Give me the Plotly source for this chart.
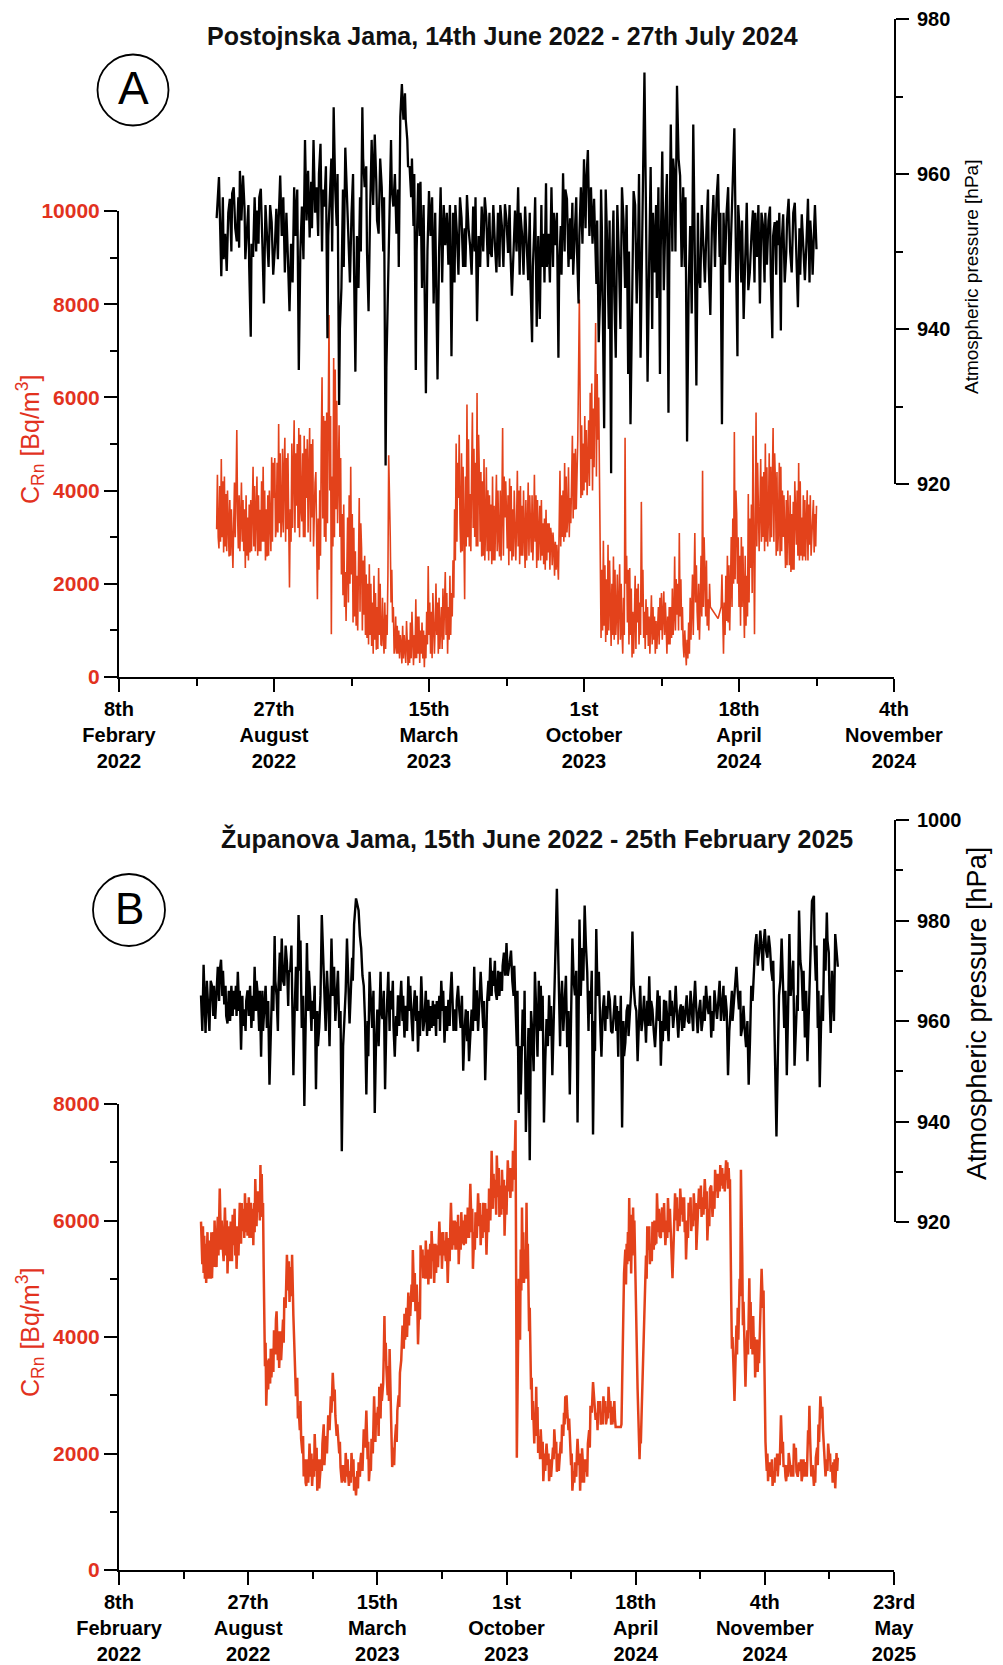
import pandas as pd
import plotly.graph_objects as go

W, H = 1003, 1665
DAY0 = pd.Timestamp("2022-02-08")   # days below are counted from this date

# ---------------- Panel A : Postojnska Jama ----------------
a_rn_day = [126,127,129,132,135,138,142,147,149,152,
            154,158,163,166,169,173,177,182,186,191,
            195,197,200,203,206,210,214,217,220,223,
            226,229,232,236,239,242,246,249,253,256,
            259,262,265,268,271,274,277,281,283,285,
            289,292,295,299,302,307,310,313,316,320,
            323,326,329,332,335,339,342,345,348,350,
            353,356,360,365,369,373,376,380,383,386,
            391,394,399,402,406,409,412,416,421,424,
            427,431,435,438,441,444,446,449,453,456,
            459,462,465,468,471,473,476,481,484,487,
            491,495,498,501,504,509,511,514,517,520,
            524,528,532,536,539,543,548,551,554,558,
            562,565,567,569,572,575,579,582,585,588,
            592,594,596,599,602,606,609,612,615,618,
            620,622,625,628,631,635,638,642,646,650,
            653,656,659,662,666,669,674,677,680,683,
            687,692,696,699,703,707,710,713,717,720,
            723,726,729,732,735,739,743,747,750,753,
            756,760,763,773,777,780,783,786,790,794,
            797,800,803,807,810,812,815,818,820,822,
            825,828,831,834,838,841,844,847,851,854,
            857,860,864,867,870,874,877,881,884,888,
            891,895,897,900]
a_rn = [3173,4342,2756,4676,2672,3925,2588,2338,4175,5302,
        2756,4175,2338,3424,2672,4509,3257,3591,4509,2588,
        3340,4718,3841,3173,5427,3424,5135,3173,1920,5010,
        5511,3674,5344,3340,5177,3841,5344,3424,4175,1670,
        4008,6430,3006,5678,7766,918,6847,5928,4676,3006,
        1753,2254,3424,4509,1169,2171,3841,2756,1336,835,
        2421,668,2171,584,2338,668,501,1336,4759,3006,
        1169,668,501,292,668,250,1169,250,1670,501,
        1169,209,2380,501,1336,2004,501,1503,2254,501,
        2171,2505,5010,3841,2672,4509,1670,5845,3925,5678,
        3006,6096,4342,2588,4676,3173,4008,2421,3674,4342,
        2588,5344,3424,2756,4259,2588,3424,4425,2421,3674,
        2338,4175,2672,4342,2338,3674,2421,3591,2672,3006,
        2171,2839,2088,4425,3006,4592,3424,3841,5177,3591,
        5093,8100,3841,5010,4175,5511,4676,5761,7598,5093,
        4259,835,2922,751,2839,668,2588,1336,2421,501,
        5135,1169,2338,418,2171,1169,3758,835,1670,668,
        1753,501,1503,1002,1837,501,1503,835,2588,1336,
        3089,1002,418,250,1169,1503,3089,1002,1503,4425,
        2171,1670,1503,1253,1503,501,2171,1169,3006,5260,
        3507,1503,3006,835,2171,3925,2338,5177,918,5678,
        3841,4676,3006,5010,3424,4509,5344,4175,3173,4509,
        3006,2338,3424,2254,3758,2839,4592,3424,2588,4008,
        2839,3424,2672,3674]
# additional (day, Bq/m3) readings between the main ones
a_rn_extra = [
    (128,3000),(130,4100),(131,2900),(133,3000),(134,4200),(136,4300),(137,2800),(139,2700),(140,4000),(141,3100),
    (143,3800),(144,2600),(145,3600),(146,2900),(150,3000),(151,4000),(153,3500),(155,3900),(156,2700),(157,3400),
    (159,2900),(160,3800),(161,2700),(162,3600),(164,3900),(165,2600),(167,2500),(168,3700),(170,3800),(171,2700),
    (172,3500),(174,2800),(175,4100),(176,2700),(178,4300),(179,2600),(180,3900),(181,2700),(183,2700),(184,4200),
    (185,2900),(187,2900),(188,4000),(189,2500),(190,3600),(192,3900),(193,2600),(194,4000),(196,2700),(198,2900),
    (199,4600),(201,4700),(202,3000),(204,4600),(205,3100),(207,3300),(208,4800),(209,3000),(211,4900),(212,3100),
    (213,4400),(215,2900),(216,4700),(218,4800),(219,3300),(221,3600),(222,2900),(224,3200),(225,4500),(227,3100),
    (228,4800),(230,5000),(231,3200),(233,3000),(234,5200),(235,3600),(237,4800),(238,3000),(240,3000),(241,4900),
    (243,5100),(244,3100),(245,4400),(247,2900),(248,5000),(250,5100),(251,2800),(252,3600),(254,4400),(255,2600),
    (257,3400),(258,2300),(260,2600),(261,5000),(263,3400),(264,5600),(266,5500),(267,2900),(269,3300),(270,6000),
    (272,4000),(273,5600),(275,4300),(276,2800),(278,3000),(279,6600),(280,3600),(282,3300),(284,5400),(286,4700),
    (287,2200),(288,3500),(290,3700),(291,1500),(293,1200),(294,3000),(296,1600),(297,3900),(298,2000),(300,2200),
    (301,3500),(303,3200),(304,1300),(305,2700),(306,1100),(308,1000),(309,2600),(311,1400),(312,3300),(314,1000),
    (315,2500),(317,2600),(318,900),(319,2200),(321,2000),(322,700),(324,900),(325,2000),(327,1600),(328,500),
    (330,800),(331,1800),(333,1500),(334,600),(336,900),(337,2000),(338,700),(340,1700),(341,900),(343,1600),
    (344,600),(346,900),(347,2200),(351,1600),(352,2300),(354,1500),(355,500),(357,1300),(358,500),(359,1100),
    (361,1000),(362,400),(363,900),(364,700),(366,1100),(367,400),(368,900),(370,300),(371,1200),(372,500),
    (374,800),(375,300),(377,400),(378,1400),(379,600),(381,900),(382,400),(384,400),(385,1300),(387,1300),
    (388,300),(389,1000),(390,500),(392,400),(393,1000),(395,900),(396,400),(397,1400),(398,700),(400,900),
    (401,1600),(403,1400),(404,400),(405,1800),(407,500),(408,1100),(410,900),(411,1600),(413,1700),(414,600),
    (415,1000),(417,600),(418,1900),(419,800),(420,1500),(422,900),(423,1800),(425,1500),(426,800),(428,900),
    (429,1800),(430,1300),(432,1700),(433,3600),(434,2500),(436,2900),(437,4600),(439,5200),(440,3300),(442,4800),
    (443,2700),(445,3300),(447,4300),(448,2800),(450,3000),(451,5100),(452,2800),(454,2700),(455,4400),(457,3200),
    (458,4900),(460,4600),(461,2800),(463,2800),(464,5200),(466,2900),(467,4400),(469,4200),(470,2600),(472,2500),
    (474,4500),(475,2700),(477,2500),(478,3900),(479,2700),(480,3700),(482,4300),(483,2500),(485,2500),(486,3300),
    (488,2700),(489,4000),(490,3000),(492,4000),(493,2500),(494,3600),(496,2600),(497,4300),(499,4200),(500,3500),
    (502,3900),(503,2400),(505,2700),(506,4100),(507,2500),(508,3600),(510,4000),(512,2500),(513,3300),(515,2800),
    (516,4000),(518,4100),(519,2600),(521,2600),(522,4000),(523,3100),(525,3800),(526,2500),(527,3200),(529,2600),
    (530,3900),(531,3200),(533,3900),(534,2500),(535,3100),(537,2900),(538,3900),(540,3800),(541,2500),(542,3000),
    (544,2500),(545,3800),(546,2600),(547,3300),(549,3400),(550,2300),(552,2500),(553,3300),(555,3300),(556,2300),
    (557,3200),(559,2400),(560,3100),(561,2800),(563,2900),(564,2300),(570,2800),(571,3900),(573,4000),(574,2900),
    (576,3000),(577,4300),(578,3100),(580,4500),(581,3000),(583,3300),(584,4200),(586,3400),(587,4800),(589,4900),
    (590,3600),(591,4200),(597,5400),(598,3900),(600,4000),(601,5600),(603,5300),(604,3900),(605,4600),(607,4100),
    (608,6100),(610,6300),(611,4000),(613,4500),(614,6400),(616,4300),(617,6500),(619,6000),(621,2500),(623,2300),
    (624,1000),(626,1100),(627,2400),(629,2100),(630,900),(632,1000),(633,2500),(634,1300),(636,2000),(637,900),
    (639,800),(640,2300),(641,900),(643,2200),(644,700),(645,1600),(647,800),(648,2000),(649,1000),(651,1700),
    (652,900),(654,2000),(655,2600),(657,2300),(658,700),(660,900),(661,1900),(663,1400),(664,500),(665,1200),
    (667,600),(668,1900),(670,2000),(671,700),(672,1600),(673,900),(675,1500),(676,2300),(678,1400),(679,600),
    (681,900),(682,1500),(684,1300),(685,500),(686,1000),(688,700),(689,1500),(690,800),(691,1300),(693,1200),
    (694,600),(695,1000),(697,700),(698,1700),(700,1800),(701,800),(702,1300),(704,900),(705,1600),(706,1100),
    (708,1300),(709,700),(711,700),(712,1500),(714,1900),(715,900),(716,1300),(718,1000),(719,2100),(721,2000),
    (722,1000),(724,1300),(725,2100),(727,1500),(728,700),(730,1000),(731,600),(733,800),(734,400),(736,500),
    (737,1700),(738,800),(740,2200),(741,900),(742,1800),(744,1600),(745,2400),(746,1400),(748,2000),(749,800),
    (751,2600),(752,1300),(754,1500),(755,3000),(757,1300),(758,2500),(759,1100),(761,1000),(762,2000),(778,2200),
    (779,1000),(781,1600),(782,900),(784,1200),(785,2600),(787,2400),(788,1000),(789,1900),(791,1500),(792,3400),
    (793,2000),(795,2100),(796,4000),(798,2000),(799,3000),(801,2600),(802,1100),(804,1500),(805,2800),(806,1800),
    (808,2600),(809,1100),(811,1300),(813,1600),(814,3400),(816,3700),(817,1800),(823,2800),(824,4600),(826,2700),
    (827,3600),(829,2900),(830,4300),(832,4400),(833,2700),(835,2900),(836,4500),(837,2800),(839,4800),(840,2900),
    (842,3000),(843,4200),(845,2900),(846,4800),(848,2600),(849,4400),(850,2700),(852,4600),(853,2600),(855,2700),
    (856,4000),(858,3900),(859,3100),(861,3800),(862,2400),(863,4000),(865,2400),(866,3900),(868,3500),(869,2300),
    (871,2300),(872,4200),(873,3200),(875,4000),(876,2600),(878,2500),(879,4200),(880,2600),(882,2500),(883,3900),
    (885,3800),(886,2500),(887,3300),(889,2500),(890,3700),(892,3900),(893,2600),(894,3300),(896,3800),(898,3500),
    (899,2800)]

a_p_day = [126,129,132,137,143,148,152,156,160,165,
           170,173,178,183,187,191,197,201,208,214,
           220,226,232,236,240,244,246,251,255,260,
           265,269,272,277,281,284,287,292,296,300,
           305,309,314,317,322,326,330,335,339,344,
           347,351,354,358,363,365,369,372,375,380,
           383,386,391,396,400,406,411,415,421,425,
           429,436,442,449,453,457,462,468,474,481,
           487,494,498,502,507,511,515,520,524,528,
           533,536,539,543,548,551,554,558,563,567,
           570,573,578,582,585,588,593,596,600,605,
           609,613,616,619,623,626,630,635,638,641,
           645,649,653,657,660,664,668,673,678,682,
           686,691,696,698,701,705,709,712,717,720,
           724,728,733,737,741,745,750,754,758,763,
           767,771,775,778,782,786,790,794,798,801,
           806,810,814,818,823,827,831,836,840,843,
           846,851,854,857,861,864,868,872,876,881,
           885,889,894,897,900]
a_p = [954.3,959.6,946.8,952.3,956.8,958.3,951.3,960.4,959.8,952.3,
       939.0,949.3,955.3,958.1,943.3,952.3,953.8,950.3,959.8,947.3,
       942.3,958.3,934.7,955.8,964.4,960.4,951.8,964.4,958.3,963.9,
       955.8,938.8,956.8,968.6,953.3,930.2,945.3,963.4,952.3,954.8,
       934.5,945.3,968.6,958.3,942.3,964.4,965.1,952.3,958.3,922.4,
       945.3,964.4,955.8,952.3,967.4,971.6,970.4,964.4,960.9,953.3,
       934.7,958.8,945.3,931.7,957.8,943.3,933.5,958.3,950.8,948.3,
       936.5,952.3,954.3,957.3,950.8,955.8,941.0,955.8,954.3,949.3,
       947.3,953.3,956.1,949.8,944.3,955.3,958.3,952.3,955.8,946.3,
       938.3,953.3,940.3,941.3,952.3,958.8,952.3,958.3,950.8,936.3,
       953.3,960.1,956.8,954.3,956.3,952.3,943.3,958.3,961.9,963.1,
       958.3,956.8,945.8,938.3,953.3,927.2,950.8,921.4,955.3,936.3,
       949.3,958.3,945.3,934.2,927.7,957.8,943.3,936.3,973.1,933.2,
       960.9,947.3,958.3,934.2,962.9,954.3,929.2,966.4,959.3,971.4,
       959.8,958.3,925.5,953.3,966.4,932.7,945.3,950.8,952.8,941.8,
       957.3,956.8,949.3,927.7,948.3,958.3,952.3,965.9,936.5,952.3,
       941.3,956.3,947.3,955.3,949.3,943.3,953.3,948.3,955.8,938.8,
       953.8,950.8,939.8,954.8,949.8,956.8,947.3,956.3,942.8,954.8,
       946.3,956.8,950.3,953.3,950.3]
# additional (day, hPa) readings between the main ones
a_p_extra = [
    (134,957),(135,949),(139,947.5),(141,955),(145,950),(146,957.5),(150,953),(154,957),(155,950.5),(158,954),
    (162,955.5),(163,949),(167,956),(168,948),(171,951),(175,957),(177,950),(180,951),(181,957),(185,951),
    (189,956),(193,948),(195,956),(199,947),(203,955.5),(205,949),(206,954),(210,952),(212,957),(216,955),
    (218,949),(222,951),(224,946),(228,952),(230,958),(234,950),(238,949),(242,954),(248,959),(249,953),
    (253,955),(257,952),(258,960),(262,950),(263,958),(267,961),(270,952),(274,962),(275,950),(279,958),
    (282,960),(285,940),(289,958),(290,948),(294,957),(298,946),(302,960),(303,950),(307,952),(311,957),
    (312,950),(315,962),(319,961),(320,950),(324,955),(328,956),(332,959),(333,954),(337,962),(341,950),
    (342,957),(345,935),(349,953),(352,958),(356,960),(360,958),(361,948),(367,967),(370,967),(373,961),
    (377,957),(378,962),(381,960),(384,950),(388,952),(389,959),(393,956),(394,948),(398,950),(402,952),
    (404,957),(408,955),(409,948),(413,950),(417,946),(419,956),(423,955),(427,956),(431,955),(433,946),
    (434,956),(438,947),(440,957),(444,948),(446,953),(447,948),(451,953),(455,947),(459,950),(460,957),
    (464,952),(466,948),(470,950),(472,957),(476,948),(478,955),(479,950),(483,956),(485,951),(489,955),
    (491,948),(492,956),(496,948),(500,954),(504,956),(505,950),(509,951),(513,950),(517,947),(518,955),
    (522,947),(526,950),(530,955),(531,946),(534,948),(537,957),(541,952),(545,956),(546,948),(549,946),
    (552,948),(556,946),(560,948),(561,955),(565,955),(568,948),(571,947),(575,950),(576,958),(580,948),
    (583,949),(586,947),(590,957),(591,950),(594,952),(598,951),(602,953),(603,959),(607,952),(611,951),
    (614,953),(617,954),(621,945),(622,958),(624,942),(628,958),(632,940),(633,954),(636,948),(639,945),
    (643,956),(647,940),(651,954),(655,956),(658,950),(662,945),(666,956),(670,952),(671,960),(675,950),
    (676,958),(680,955),(684,948),(688,940),(689,955),(693,956),(694,944),(699,950),(703,945),(707,960),
    (710,948),(714,950),(715,962),(718,950),(722,962),(726,948),(730,948),(731,957),(735,945),(739,942),
    (743,950),(747,955),(748,947),(752,956),(756,946),(760,958),(761,948),(765,953),(769,948),(773,960),
    (776,955),(780,955),(784,955),(788,946),(792,957),(796,950),(799,956),(803,946),(804,954),(808,950),
    (812,945),(816,952),(820,946),(821,955),(825,956),(829,955),(833,946),(834,955),(838,954),(841,947),
    (844,952),(848,947),(849,954),(852,955),(855,951),(859,946),(862,954),(866,950),(870,955),(874,948),
    (878,953),(879,947),(883,950),(887,951),(891,946),(892,954),(895,947),(898,956)]

a_tick_dates = ["2022-02-08", "2022-08-27", "2023-03-15", "2023-10-01",
                "2024-04-18", "2024-11-04"]
a_tick_text = ["8th<br>Febrary<br>2022", "27th<br>August<br>2022",
               "15th<br>March<br>2023", "1st<br>October<br>2023",
               "18th<br>April<br>2024", "4th<br>November<br>2024"]

# ---------------- Panel B : Zupanova Jama ----------------
b_rn_day = [127,129,132,135,140,144,149,153,156,160,
            164,168,173,177,182,187,191,195,199,204,
            208,211,215,219,222,225,228,232,236,240,
            244,248,252,256,260,264,268,270,274,278,
            282,286,290,295,299,303,307,311,315,319,
            324,328,331,335,339,343,347,351,356,360,
            364,367,371,375,379,383,387,391,395,399,
            403,407,411,414,419,423,427,431,435,439,
            443,448,451,455,459,463,467,471,475,480,
            484,488,492,496,500,504,509,514,518,522,
            526,530,534,540,544,548,552,556,560,564,
            569,573,577,581,585,589,593,597,602,606,
            610,614,616,618,621,624,627,631,634,637,
            640,643,646,649,653,657,662,666,670,674,
            678,682,686,691,694,698,702,706,710,714,
            717,722,726,730,734,738,742,746,750,755,
            758,762,765,769,777,779,782,787,790,793,
            796,799,802,805,808,811,815,818,822,826,
            830,833,837,841,846,850,854,857,861,865,
            869,873,878,882,886,890,894,898,902,907,
            911,915,919,923,927,931,935,940,943,946,
            948,951,953,956,959,963,967,970,973,976,
            979,982,985,988,991,995,999,1002,1005,1008,
            1012,1016,1020,1025,1029,1033,1037,1041,1045,1049,
            1053,1057,1062,1066,1069,1072,1076,1079,1083,1086,
            1090,1094,1098,1102,1106,1109,1111,1113]
b_rn = [5980,5251,5737,4927,5657,5008,5576,6062,6547,5657,
        6224,5089,5980,5576,5170,6305,5818,6467,5737,6305,
        5576,6710,6143,6953,6062,4117,2820,3631,3307,4117,
        4441,3469,3955,4684,5413,4603,5413,4360,2982,2820,
        2253,1605,1443,2172,1443,2334,1362,1605,2172,2010,
        2658,2982,3387,2658,2253,1767,1524,2010,1443,2010,
        1362,1281,1848,2010,2415,2739,1524,2253,2982,2496,
        3145,2901,4360,3469,3793,1767,2172,2739,3387,4198,
        3955,4765,4360,5494,4441,3874,5576,5008,5657,5251,
        5818,4927,5576,5980,5170,5657,4927,6305,5576,5980,
        5251,6143,5576,6224,6629,5170,6143,6467,5576,6305,
        5413,6547,7196,6386,7115,6062,6872,5737,7034,6386,
        7196,7723,1929,4603,3955,6224,4927,6305,4603,3793,
        2577,2172,3145,2010,2415,1524,2172,1524,1848,2415,
        1686,1929,2496,2982,2739,2172,1362,1848,2253,1362,
        2091,1686,2172,2820,3226,2577,2901,2496,2982,2577,
        3145,2496,2658,2456,2456,3145,5089,5251,6386,5089,
        6224,5251,3793,2172,2172,3387,4927,5899,5251,5980,
        5576,6467,5737,6224,5576,6386,5899,5008,6467,5818,
        6547,5980,5332,6305,5818,6467,5494,6547,6062,6710,
        5657,6547,6062,6872,6386,6953,6547,7034,6547,6710,
        4603,3307,2901,4198,3955,6872,4603,3145,4117,5008,
        3793,4360,3307,3955,3549,5170,3793,1929,1524,1848,
        1443,1929,1605,2658,1767,1524,2010,1605,2172,1686,
        1848,1524,1848,2172,2820,1605,1443,1929,2496,2982,
        2415,1605,2172,1686,1848,1402,2010,1929]
b_rn_extra = [
    (128,5500),(130,5900),(131,5100),(133,5000),(134,5600),(137,5800),(138,5000),(139,5300),(142,5000),(143,5800),
    (146,5800),(147,5200),(148,6000),(151,5200),(152,5800),(154,5400),(155,6100),(158,5500),(159,6000),(162,5300),
    (163,5800),(166,5400),(167,6000),(170,5900),(171,5300),(172,5700),(175,5300),(176,6100),(179,6200),(180,5400),
    (181,5900),(184,5900),(185,5400),(189,5600),(190,6300),(193,6200),(194,5700),(197,5800),(198,6300),(201,6400),
    (202,5700),(206,5700),(207,6200),(209,6300),(210,5800),(213,5900),(214,6500),(217,6500),(218,6000),(220,6100),
    (221,6800),(223,6300),(224,5200),(226,3500),(227,3900),(230,3600),(231,3100),(234,3200),(235,3800),(238,3800),
    (239,3400),(242,3700),(243,4300),(246,3600),(247,4100),(250,4100),(251,3600),(254,4300),(255,3900),(258,4500),
    (259,5200),(262,4800),(263,5300),(266,5200),(267,4700),(272,3400),(273,3100),(276,3300),(277,2600),(280,2400),
    (281,2900),(284,2000),(285,2300),(288,1900),(289,1500),(292,1900),(293,1500),(294,1800),(297,1600),(298,2000),
    (301,1900),(302,1600),(305,1700),(306,2100),(309,1900),(310,1400),(313,1900),(314,1700),(317,2500),(318,1800),
    (321,2300),(322,2000),(323,2400),(326,2400),(327,2900),(329,2700),(330,3200),(333,2900),(334,3100),(337,2300),
    (338,2500),(341,2000),(342,2200),(345,1500),(346,1800),(349,1800),(350,1500),(353,1600),(354,1900),(355,1600),
    (358,1700),(359,1500),(362,1600),(363,1900),(365,1600),(366,1400),(369,1700),(370,1400),(373,1600),(374,1900),
    (377,1700),(378,2100),(381,2100),(382,2400),(385,1900),(386,2200),(389,1900),(390,1700),(393,2000),(394,2500),
    (397,2200),(398,2700),(401,2800),(402,2300),(405,2600),(406,3200),(409,3200),(410,3700),(412,3600),(413,3900),
    (416,3000),(417,3500),(418,2900),(421,2500),(422,2000),(425,2100),(426,1800),(429,2500),(430,2200),(433,3000),
    (434,2800),(437,3600),(438,3900),(441,3800),(442,4400),(445,4500),(446,4000),(447,4300),(449,4200),(450,4700),
    (453,4900),(454,4600),(457,4600),(458,5100),(461,4900),(462,4500),(465,4600),(466,4300),(469,5200),(470,5500),
    (473,5400),(474,5000),(477,5000),(478,5500),(479,4900),(482,5600),(483,5000),(486,5300),(487,5600),(490,5600),
    (491,5100),(494,5200),(495,5500),(498,5400),(499,5800),(502,5800),(503,5400),(506,5300),(507,5800),(508,5400),
    (511,5700),(512,5300),(513,5900),(516,5500),(517,6000),(520,6000),(521,5500),(524,5500),(525,6100),(528,5900),
    (529,5500),(532,5600),(533,6000),(536,6100),(537,5600),(538,6000),(539,5700),(542,5700),(543,6000),(546,5800),
    (547,6200),(550,5800),(551,5500),(554,5700),(555,6100),(558,5900),(559,6300),(562,6100),(563,5700),(566,5800),
    (567,6300),(568,5900),(571,6200),(572,5800),(575,6000),(576,6500),(579,6200),(580,6800),(583,6700),(584,6100),
    (587,6400),(588,6900),(591,6600),(592,6100),(595,6200),(596,6700),(599,6600),(600,6100),(601,6500),(604,6500),
    (605,6900),(608,6900),(609,6500),(612,6700),(613,7100),(619,5000),(620,4300),(622,5500),(623,4800),(625,5300),
    (626,5800),(629,5500),(630,5000),(632,5200),(633,5600),(635,4100),(636,4500),(638,3100),(639,3300),(641,2900),
    (642,2400),(644,2700),(645,2300),(647,2500),(648,2800),(651,2300),(652,1900),(655,1900),(656,2200),(659,2000),
    (660,1700),(661,2000),(664,1800),(665,2000),(668,1900),(669,1600),(672,2100),(673,1900),(676,2000),(677,2200),
    (680,2000),(681,1700),(684,2200),(685,2000),(688,2300),(689,2700),(690,2500),(692,2600),(693,3000),(696,2400),
    (697,2600),(700,1800),(701,2000),(704,1700),(705,1500),(708,1600),(709,2000),(712,1800),(713,2000),(715,1800),
    (716,1500),(719,1700),(720,1500),(721,1900),(724,1900),(725,1600),(728,2400),(729,2100),(732,2700),(733,3000),
    (736,2900),(737,2700),(740,2700),(741,2400),(744,2700),(745,2900),(748,2700),(749,2500),(752,2700),(753,2900),
    (754,2500),(756,2800),(757,2600),(760,2700),(761,2900),(763,2800),(764,2500),(767,2900),(768,2600),(778,2500),
    (780,3800),(781,4500),(784,5500),(785,4900),(786,5600),(788,5800),(789,5300),(791,5600),(792,6100),(794,5800),
    (795,5400),(797,5600),(798,6000),(800,4600),(801,4200),(803,3100),(804,2700),(806,1900),(807,2300),(809,2600),
    (810,3000),(813,3900),(814,4400),(816,5400),(817,5000),(820,5500),(821,5900),(824,5600),(825,5300),(828,5500),
    (829,6000),(831,6000),(832,5600),(835,5800),(836,6200),(839,5700),(840,6100),(843,5800),(844,6300),(845,5900),
    (848,6000),(849,5700),(852,5800),(853,6200),(855,5600),(856,5400),(859,5700),(860,6000),(863,6000),(864,6400),
    (867,6200),(868,5900),(871,6100),(872,6400),(875,6400),(876,5800),(877,6000),(880,6000),(881,5700),(884,6100),
    (885,6400),(888,6100),(889,5900),(892,6000),(893,6300),(896,6000),(897,6300),(900,6200),(901,6600),(904,6400),
    (905,6100),(906,6400),(909,6200),(910,6500),(913,6200),(914,5900),(917,6600),(918,6300),(921,6500),(922,6200),
    (925,6500),(926,6800),(929,6800),(930,6500),(933,6600),(934,6900),(937,6800),(938,6500),(939,6800),(941,6700),
    (942,7000),(944,6900),(945,6600),(949,3800),(950,4000),(952,3300),(954,3600),(955,3800),(957,3700),(958,4500),
    (961,5000),(962,4700),(965,5400),(966,4200),(968,4000),(969,3600),(971,3600),(972,3800),(974,3700),(975,4400),
    (977,4200),(978,4600),(980,4100),(981,3700),(983,3800),(984,4000),(986,3700),(987,3400),(989,3400),(990,3900),
    (993,4300),(994,4800),(997,4500),(998,4800),(1000,2700),(1001,2200),(1003,1700),(1004,2000),(1006,1800),(1007,1600),
    (1010,1600),(1011,1900),(1014,1700),(1015,1500),(1018,1700),(1019,2000),(1022,2000),(1023,1800),(1024,2200),(1027,2000),
    (1028,2200),(1031,1800),(1032,1600),(1035,1800),(1036,1600),(1039,1800),(1040,1700),(1043,1800),(1044,1600),(1047,1900),
    (1048,2100),(1051,1600),(1052,1800),(1055,1700),(1056,1900),(1059,1700),(1060,1900),(1061,1600),(1064,1800),(1065,1600),
    (1067,2400),(1068,2200),(1070,2300),(1071,2000),(1074,1800),(1075,1600),(1077,1700),(1078,1500),(1081,2100),(1082,1800),
    (1084,2200),(1085,2700),(1088,2600),(1089,2800),(1092,2000),(1093,1800),(1096,1900),(1097,1700),(1100,1900),(1101,2000),
    (1104,1800),(1105,1500),(1107,1600),(1108,1900),(1110,1700),(1112,1700)]

b_p_day = [127,131,134,138,144,149,153,158,163,168,
           174,179,184,189,194,199,205,210,215,220,
           225,229,233,237,241,244,249,252,256,260,
           265,270,274,278,283,287,291,296,301,305,
           310,314,318,324,329,333,337,341,345,349,
           353,357,361,364,367,371,375,379,383,388,
           392,396,400,405,408,412,417,422,427,432,
           437,442,448,453,458,463,468,473,479,484,
           489,494,499,504,510,515,520,525,529,533,
           537,542,546,550,554,560,564,567,572,575,
           580,585,591,596,600,605,609,614,619,622,
           625,630,634,636,640,644,648,653,658,662,
           666,671,675,678,681,686,690,694,698,702,
           706,710,713,717,721,725,730,734,739,743,
           747,751,756,760,764,768,773,776,779,784,
           788,791,795,799,803,807,811,816,821,826,
           830,834,839,844,849,853,858,862,866,870,
           875,879,883,887,892,896,900,904,909,913,
           917,922,926,930,934,939,943,947,952,956,
           960,965,971,975,979,983,987,991,995,1000,
           1004,1008,1012,1015,1018,1022,1026,1030,1034,1038,
           1042,1046,1050,1053,1057,1062,1066,1070,1073,1076,
           1079,1082,1085,1088,1092,1096,1099,1102,1106,1109,
           1111,1113]
b_p = [965.1,971.2,957.6,963.3,967.0,960.4,970.8,972.2,963.3,959.5,
       967.0,962.3,969.8,954.3,962.3,966.1,958.6,970.8,965.1,952.9,
       962.3,958.6,947.3,967.0,976.9,965.1,973.6,976.4,967.0,971.7,
       969.8,949.2,970.8,981.1,958.6,943.1,975.5,965.1,960.4,946.4,
       958.6,981.1,968.0,964.2,976.4,970.8,965.1,958.6,934.1,960.4,
       976.4,959.5,972.6,979.2,984.4,982.0,974.5,967.0,945.4,969.8,
       958.6,941.7,962.3,969.8,960.4,946.4,969.8,962.3,952.9,965.1,
       968.0,956.7,968.9,960.4,966.1,953.9,968.9,960.4,964.2,958.6,
       963.3,960.4,968.0,955.7,964.2,969.8,962.3,967.0,958.6,950.1,
       962.3,952.0,962.3,970.8,966.1,969.8,958.6,948.2,968.0,972.6,
       967.0,964.2,969.8,973.6,975.5,971.7,968.0,962.3,941.7,945.4,
       962.3,937.9,958.6,932.3,957.6,969.8,952.9,967.0,939.8,960.4,
       965.1,949.2,969.8,986.3,962.3,968.0,964.2,954.8,945.4,976.4,
       965.1,939.8,980.2,974.5,983.0,969.8,961.4,937.4,978.3,969.8,
       952.9,965.1,960.4,964.2,957.6,965.1,952.9,959.5,938.8,955.7,
       963.3,961.4,977.8,963.3,952.0,967.0,960.4,955.7,968.9,962.3,
       954.8,966.1,951.1,964.2,960.4,966.1,958.6,967.0,956.7,963.3,
       958.6,965.1,959.5,962.3,968.0,957.6,964.2,960.4,967.0,961.4,
       956.7,966.1,960.4,968.0,963.3,965.1,949.2,962.3,963.3,970.8,
       962.3,958.6,954.8,947.3,967.0,971.7,977.3,973.6,974.5,978.3,
       972.6,974.5,968.0,958.6,937.0,965.1,976.4,958.6,949.2,977.3,
       968.9,951.1,965.1,982.0,969.8,956.7,952.0,971.7,983.9,984.9,
       968.0,958.6,946.8,965.1,976.4,981.6,973.6,957.6,965.1,977.3,
       974.5,970.8]
b_p_extra = [
    (129,958),(132,966),(136,968),(140,958),(142,968),(146,961),(147,967),(151,966),(155,964),(156,970),
    (160,965),(161,970),(165,967),(166,961),(170,966),(172,960),(176,961),(177,966),(181,967),(182,961),
    (186,962),(187,966),(191,965),(192,959),(196,958),(197,964),(201,961),(203,967),(207,965),(208,960),
    (212,962),(213,968),(217,958),(218,966),(222,966),(223,958),(227,967),(231,964),(235,958),(239,962),
    (242,968),(246,958),(247,967),(250,966),(254,968),(258,975),(262,963),(263,970),(267,975),(268,962),
    (272,962),(276,962),(280,970),(281,976),(285,965),(289,960),(293,962),(294,970),(298,958),(299,964),
    (303,967),(307,962),(308,955),(312,965),(316,972),(320,958),(322,970),(326,955),(327,966),(331,965),
    (335,960),(339,970),(343,962),(347,955),(351,966),(355,966),(359,966),(362,968),(373,977),(377,969),
    (381,960),(385,960),(386,953),(390,964),(394,966),(398,956),(402,955),(403,962),(406,962),(410,966),
    (414,960),(415,965),(419,958),(420,966),(424,968),(425,959),(429,961),(430,957),(434,959),(435,963),
    (439,960),(440,965),(444,963),(446,958),(450,962),(451,967),(455,956),(456,962),(460,960),(461,965),
    (465,962),(466,957),(470,962),(471,958),(475,966),(477,957),(481,958),(482,963),(486,964),(487,959),
    (491,957),(492,964),(496,965),(497,958),(501,962),(502,966),(506,963),(508,958),(512,959),(513,965),
    (517,963),(518,958),(522,958),(523,964),(527,962),(531,965),(535,958),(539,956),(540,962),(544,958),
    (548,958),(552,960),(556,958),(558,964),(562,964),(565,964),(569,958),(570,964),(573,964),(577,965),
    (578,970),(582,972),(583,966),(587,970),(589,965),(593,966),(594,971),(598,969),(602,969),(607,974),
    (611,965),(612,971),(616,955),(617,966),(620,955),(623,950),(627,955),(628,966),(632,950),(635,945),
    (638,962),(642,950),(646,962),(650,968),(651,958),(655,958),(656,965),(660,952),(664,955),(668,957),
    (669,963),(673,962),(676,975),(679,980),(683,955),(684,962),(688,958),(692,969),(696,962),(700,960),
    (704,968),(708,970),(711,952),(715,965),(719,968),(723,975),(727,958),(728,966),(732,970),(736,960),
    (737,954),(741,965),(745,960),(749,962),(753,958),(754,963),(758,966),(762,958),(766,962),(770,958),
    (771,963),(774,962),(777,965),(781,960),(782,953),(786,962),(789,957),(793,966),(797,967),(801,962),
    (805,960),(809,958),(813,965),(814,960),(818,964),(819,959),(823,959),(824,964),(828,958),(832,960),
    (836,960),(837,965),(841,960),(842,956),(846,958),(847,964),(851,956),(855,961),(856,964),(860,962),
    (864,961),(868,962),(872,958),(873,963),(877,962),(881,960),(885,966),(889,958),(890,963),(894,962),
    (898,962),(902,958),(906,965),(907,960),(911,963),(915,965),(919,962),(920,958),(924,963),(928,964),
    (932,960),(936,967),(937,960),(941,962),(945,958),(949,966),(950,960),(954,966),(958,966),(962,966),
    (963,957),(967,963),(969,958),(973,960),(977,956),(981,964),(985,975),(989,971),(993,978),(997,970),
    (998,975),(1002,974),(1006,977),(1010,970),(1013,972),(1020,952),(1024,968),(1028,968),(1032,966),(1036,962),
    (1040,965),(1044,972),(1048,960),(1051,962),(1055,972),(1059,962),(1060,970),(1064,966),(1068,962),(1077,975),
    (1080,975),(1083,966),(1086,955),(1090,960),(1094,970),(1097,976),(1100,966),(1104,970),(1107,960)]

b_tick_dates = ["2022-02-08", "2022-08-27", "2023-03-15", "2023-10-01",
                "2024-04-18", "2024-11-04", "2025-05-23"]
b_tick_text = ["8th<br>February<br>2022", "27th<br>August<br>2022",
               "15th<br>March<br>2023", "1st<br>October<br>2023",
               "18th<br>April<br>2024", "4th<br>November<br>2024",
               "23rd<br>May<br>2025"]

# ---------------- styling ----------------
RED = "#E3421B"
RED_TXT = "#E2321E"
FONT = "Liberation Sans, Arial, sans-serif"


def series(days, vals, extra):
    pts = sorted(list(zip(days, vals)) + list(extra))
    return ([DAY0 + pd.Timedelta(days=int(d)) for d, _ in pts],
            [v for _, v in pts])


def minor_dates(ticks):
    t = pd.to_datetime(ticks)
    return [str((t[i] + (t[i + 1] - t[i]) / 2).date()) for i in range(len(t) - 1)]


def px(x):
    return x / W


def py(y):
    return 1 - y / H


axis_common = dict(showline=True, linecolor="black", linewidth=2,
                   ticks="outside", ticklen=13, tickwidth=2, tickcolor="black",
                   showgrid=False, zeroline=False, fixedrange=True,
                   automargin=False)

fig = go.Figure()
x, y = series(a_rn_day, a_rn, a_rn_extra)
fig.add_trace(go.Scatter(x=x, y=y, mode="lines",
                         line=dict(color=RED, width=1.6), xaxis="x", yaxis="y"))
x, y = series(a_p_day, a_p, a_p_extra)
fig.add_trace(go.Scatter(x=x, y=y, mode="lines",
                         line=dict(color="black", width=2.3), xaxis="x", yaxis="y2"))
x, y = series(b_rn_day, b_rn, b_rn_extra)
fig.add_trace(go.Scatter(x=x, y=y, mode="lines",
                         line=dict(color=RED, width=2.5), xaxis="x2", yaxis="y3"))
x, y = series(b_p_day, b_p, b_p_extra)
fig.add_trace(go.Scatter(x=x, y=y, mode="lines",
                         line=dict(color="black", width=2.4), xaxis="x2", yaxis="y4"))

XDOM = [px(119), px(894)]
xfont = dict(family=FONT, size=20, color="black", weight="bold")
minor_x = dict(ticks="outside", ticklen=7, tickwidth=2, tickcolor="black")
left_font = dict(family=FONT, size=21, color=RED_TXT, weight="bold")
right_font = dict(family=FONT, size=20, color="black", weight="bold")

fig.update_layout(
    width=W, height=H, margin=dict(l=0, r=0, t=0, b=0, autoexpand=False),
    paper_bgcolor="white", plot_bgcolor="rgba(0,0,0,0)", showlegend=False,
    font=dict(family=FONT),
    xaxis=dict(domain=XDOM, anchor="y", type="date",
               range=[a_tick_dates[0], a_tick_dates[-1]],
               tickmode="array", tickvals=a_tick_dates, ticktext=a_tick_text,
               tickfont=xfont,
               minor=dict(tickmode="array", tickvals=minor_dates(a_tick_dates), **minor_x),
               **axis_common),
    yaxis=dict(domain=[py(677), py(211)], anchor="x", range=[0, 10000],
               tickmode="linear", tick0=0, dtick=2000, tickformat="d",
               tickfont=left_font,
               minor=dict(tickmode="linear", tick0=0, dtick=1000, **minor_x),
               **axis_common),
    yaxis2=dict(domain=[py(484), py(19)], anchor="x", side="right", range=[920, 980],
                tickmode="linear", tick0=920, dtick=20, tickformat="d",
                tickfont=right_font, ticklabelstandoff=4,
                minor=dict(tickmode="linear", tick0=920, dtick=10, **minor_x),
                **axis_common),
    xaxis2=dict(domain=XDOM, anchor="y3", type="date",
                range=[b_tick_dates[0], b_tick_dates[-1]],
                tickmode="array", tickvals=b_tick_dates, ticktext=b_tick_text,
                tickfont=xfont,
                minor=dict(tickmode="array", tickvals=minor_dates(b_tick_dates), **minor_x),
                **axis_common),
    yaxis3=dict(domain=[py(1570), py(1104)], anchor="x2", range=[0, 8000],
                tickmode="linear", tick0=0, dtick=2000, tickformat="d",
                tickfont=left_font,
                minor=dict(tickmode="linear", tick0=0, dtick=1000, **minor_x),
                **axis_common),
    yaxis4=dict(domain=[py(1222), py(820)], anchor="x2", side="right", range=[920, 1000],
                tickmode="linear", tick0=920, dtick=20, tickformat="d",
                tickfont=right_font, ticklabelstandoff=4,
                minor=dict(tickmode="linear", tick0=920, dtick=10, **minor_x),
                **axis_common),
)

ann = []
# titles
ann.append(dict(text="<b>Postojnska Jama, 14th June 2022 - 27th July 2024</b>",
                x=px(502), y=py(36), font=dict(size=25, color="#111")))
ann.append(dict(text="<b>Županova Jama, 15th June 2022 - 25th February 2025</b>",
                x=px(537), y=py(838), font=dict(size=25, color="#111")))
# panel letters
ann.append(dict(text="A", x=px(133), y=py(88), font=dict(size=46, color="black")))
ann.append(dict(text="B", x=px(129), y=py(908), font=dict(size=44, color="black")))
# axis titles
ylab = "C<sub>Rn</sub> [Bq/m<sup>3</sup>]"
ann.append(dict(text=ylab, x=px(30), y=py(440), textangle=-90,
                font=dict(size=25, color=RED_TXT)))
ann.append(dict(text=ylab, x=px(30), y=py(1333), textangle=-90,
                font=dict(size=25, color=RED_TXT)))
ann.append(dict(text="Atmospheric pressure [hPa]", x=px(971), y=py(277), textangle=-90,
                font=dict(size=19, color="black")))
ann.append(dict(text="Atmospheric pressure [hPa]", x=px(977), y=py(1014), textangle=-90,
                font=dict(size=27, color="black")))
for a in ann:
    a.update(xref="paper", yref="paper", showarrow=False,
             xanchor="center", yanchor="middle")
    a["font"]["family"] = FONT
fig.update_layout(annotations=ann)

# circles around panel letters
for cx, cy, r in [(133, 90, 35.5), (129, 910, 36)]:
    fig.add_shape(type="circle", xref="paper", yref="paper",
                  x0=px(cx - r), x1=px(cx + r), y0=py(cy + r), y1=py(cy - r),
                  line=dict(color="black", width=1.8))

fig.write_html("out.html")
